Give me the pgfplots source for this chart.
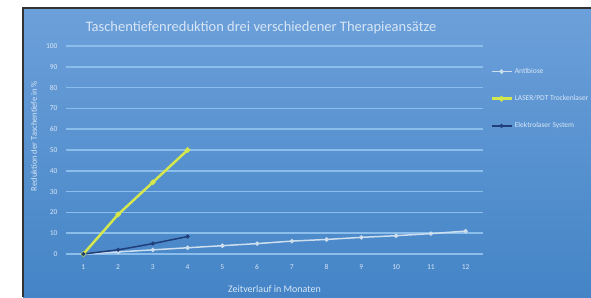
\documentclass[border=0pt]{standalone}
\usepackage{pgfplots}
\pgfplotsset{compat=1.18}
\usepackage{fontspec}
\setmainfont{Carlito}
\definecolor{bgtop}{RGB}{108,160,218}
\definecolor{bgbot}{RGB}{68,132,198}
\definecolor{gridc}{RGB}{140,190,236}
\definecolor{txt}{RGB}{215,230,246}
\definecolor{yel}{RGB}{212,232,78}
\definecolor{dblue}{RGB}{32,62,122}
\definecolor{wline}{RGB}{205,222,238}
\begin{document}
\begin{tikzpicture}[x=1pt,y=1pt]
\useasboundingbox (0,0) rectangle (591,297);
\fill[white] (0,0) rectangle (591,297);
\shade[top color=bgtop,bottom color=bgbot] (23,0) rectangle (591,289);
\draw[black!80, line width=1.2pt] (23,0) -- (23,289) -- (591,289);
\node[text=txt, font=\fontsize{14.5}{17}\selectfont] at (261,269) {Taschentiefenreduktion drei verschiedener Therapieansätze};
\begin{axis}[
  at={(66pt,43pt)}, anchor=south west, scale only axis,
  width=417pt, height=208pt,
  xmin=0.5, xmax=12.5, ymin=0, ymax=100,
  axis line style={draw=none}, tick style={draw=none},
  xtick={1,...,12}, ytick={0,10,...,100},
  ymajorgrids, grid style={gridc, line width=1.6pt},
  ticklabel style={font=\fontsize{7.5}{8}\selectfont, text=txt},
  /pgf/number format/assume math mode=true,
  yticklabel style={xshift=-5pt},
  xticklabel style={yshift=-7pt},
  xlabel={Zeitverlauf in Monaten}, ylabel={Reduktion der Taschentiefe in \%},
  label style={text=txt},
  xlabel style={font=\fontsize{10}{11}\selectfont, at={(axis description cs:0.5,-0.168)}, anchor=center},
  ylabel style={font=\fontsize{8.5}{9}\selectfont, at={(axis description cs:-0.077,0.567)}, anchor=center},
  legend style={at={(1.017,0.904)}, anchor=north west, draw=none, fill=none,
    font=\fontsize{7.5}{8}\selectfont, text=txt, row sep=16.5pt, inner sep=0pt},
  legend cell align=left,
  legend image code/.code={\draw[#1] (0pt,0pt) -- (20pt,0pt);
    \draw[#1, mark repeat=1] plot coordinates {(10pt,0pt)};},
]
\addplot[wline, line width=1.5pt, mark=*, mark size=1.4pt] coordinates {
(1,0) (2,1) (3,2) (4,3) (5,4) (6,5) (7,6.2) (8,7) (9,8) (10,8.8) (11,9.8) (12,11)};
\addlegendentry{Antibiose}
\addplot[yel, line width=2.5pt, mark=*, mark size=1.3pt] coordinates {
(1,0) (2,19) (3,34.5) (4,50)};
\addlegendentry{LASER/PDT Trockenlaser}
\addplot[dblue, line width=1.5pt, mark=*, mark size=1.2pt] coordinates {
(1,0) (2,2) (3,5) (4,8.4)};
\addlegendentry{Elektrolaser System}
\end{axis}
\end{tikzpicture}
\end{document}
